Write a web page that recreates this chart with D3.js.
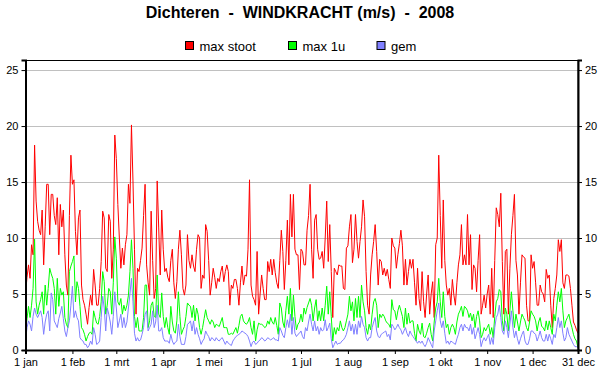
<!DOCTYPE html>
<html><head><meta charset="utf-8">
<script src="https://cdn.jsdelivr.net/npm/d3@7"></script>
<style>
html,body{margin:0;padding:0;background:#fff;}
svg text{font-family:"Liberation Sans",Arial,sans-serif;}
</style></head>
<body>
<svg id="chart" width="600" height="390"></svg>
<script>
const title = "Dichteren  -  WINDKRACHT (m/s)  -  2008";
const seriesNames = ["max stoot", "max 1u", "gem"];
const tickDays = [0,31,60,91,121,152,182,213,244,274,305,335,365];
const tickLabels = ["1 jan","1 feb","1 mrt","1 apr","1 mei","1 jun","1 jul","1 aug","1 sep","1 okt","1 nov","1 dec","31 dec"];
const yTicks = [0,5,10,15,20,25];

const maxStoot = [
5,6.5,7.6,6.4,9.4,8.5,18.3,13.3,11.5,10.7,
10.3,12.5,7.6,11,14.8,14.8,10.3,13.9,13.9,12,
11.2,13.6,8.5,13,11,12.5,8.5,5.8,4.9,12,
17.4,14.8,15.2,10.6,8.5,11.8,12.5,5.8,4.5,4,
3.2,2.3,3.8,4.9,4.0,7.2,5.8,4.0,4.0,5.5,
7.9,12.4,11.8,7.3,7.0,12.1,11.5,6.4,9,19.2,
17.1,13,10,7.3,9.1,7.6,9.4,10.3,14.8,13.1,
20.1,15.1,9,3.2,7.3,7.0,8,9.1,12,14.8,
7.6,6,4.9,12.4,8,4.6,5.5,15.1,10.9,6.7,
12.5,9,7,7.3,6.5,6.1,8,9,6,4.6,
6.1,9,10.7,8.5,5.5,4.9,5.8,10.3,8,7.3,
8.5,7.5,7,9,10.3,10,5.5,6.7,6.4,11.2,
10.6,8,4.9,6,7.3,6.5,5.5,6.4,6.1,7,
7.5,6.1,7,7.6,7,4,5.8,5.5,6.3,6.3,
5.5,4,6,7.5,5.8,6.7,6.6,9,15.2,5.8,
4.8,4.5,4,8.8,3.2,5,6.7,5.5,4.5,4.5,
7.9,7,8.1,6.7,8.1,6.9,6,5.5,8,10.7,
8.8,5.4,8,11.6,7.6,13.9,10.1,13.9,9,8.5,
8.5,5.4,9,8.8,7.6,7.6,10.7,12,14.8,9,
6.4,11.6,12.1,9,8.1,8.2,8.8,7.3,10,13.3,
7.9,11.2,7,2.9,7.3,7,6.7,7.6,7.5,7.5,
5.5,5.4,9.1,9.3,11,12.1,7.8,9,12.1,9.7,
8.2,9.7,11,13.4,11.9,7,4,3.2,6.7,8.5,
9.7,11.2,8.8,5.8,8.1,7.9,6.7,7.3,6.6,7.2,
6.3,5.5,10,9.3,9.1,7.3,8.5,9.5,10.7,9.3,
5.8,8.1,5.8,7,8.1,7.3,8.1,6,4,7.3,
4.6,3.5,7,4.3,2.9,5,6.7,3.2,5,6.1,
2.9,9.4,10,17.4,12,7.3,13.4,8,5.8,4.9,
5.5,4,6.3,4.9,4,6,7.6,8.5,11.2,7.6,
8.5,7.6,12.1,7.6,10.3,5.4,7.6,7.3,5.2,8,
10.3,3.2,4,4.9,3.75,5,5.8,3.2,7.3,2.9,
8,12.7,12.1,11,14,7.9,3.2,8.8,9,3.2,
7.3,10.3,12,13.9,8,6.7,3.2,6,8.5,8.3,
8.2,4,2.6,2.6,8.5,7.3,7.9,6,4,4,
5.8,5.2,5,4.3,7.2,6.4,6.7,4,2,4.6,
5.5,6.7,9.85,8.8,9.85,6,5.5,6.7,6.7,6.6,
5.5,4,2.5,2.2,1.8,1.5];

const max1u = [
1.7,2.8,3.9,2.9,4,5.5,9.9,4.3,3.2,4,
4.5,5.2,3.2,5.8,4,5.5,7.3,6.8,6.4,5.5,
3.2,6.4,3.9,5.5,4.9,5.2,2.9,2.3,2,7,
7.5,7.9,8.4,4.3,6.1,5.5,3.9,2,1.8,1.4,
0.8,1.2,1.5,1.6,1.4,3.5,2.9,2.4,2.3,3,
4.3,7,6.1,3.2,4,5.5,5.2,3.2,6,10.1,
8.2,4.3,4,4.6,3.2,4,3.5,4,4.9,7,
9.85,7.3,3,2,2.9,1.7,1.7,1.7,2.9,5.8,
5.8,2,2.6,4,4.3,3,2.9,6.7,3.2,2.9,
5.1,3,2,2.9,2,1.4,3.9,2.5,1.7,1.5,
2.6,5.2,3,1.4,1.8,2.1,3,4.2,4,3.9,
2.9,4,2.6,3.75,3.2,2,1.4,2,2.8,3.6,
2.9,2.6,2.3,2.7,2.5,2,2.3,2.2,2.1,2.5,
2.9,2,2,2,1.4,1.4,1.5,1.4,1.7,2,
1.5,2.2,3,3.2,2.6,2.4,2.3,2.5,2.9,2,
1.4,2.6,0.8,1.8,2.4,2.3,2.3,2.2,2,2.1,
2.6,2.3,2.9,2.5,2.3,2.9,2.2,1.4,4.2,3.75,
2.5,2,3.5,4.8,3.2,5.5,2.6,4.9,3,1.8,
2.3,2.5,3.2,2.5,3.75,3.2,3.8,4.2,4.6,4,
2.6,3.75,4.5,2.6,3.5,2.6,3.75,2.6,4,5.7,
3.2,5.2,3,0.8,2,1.4,2,1.7,2.6,2,
1.7,2,2.6,3.2,4.8,3.5,4.3,2.6,4.6,2.9,
4.8,2.9,5.8,4.3,3.5,2,1.4,2.3,1.8,3.2,
4.3,4.6,4,2,3.2,2.9,3.2,3,2.6,2.4,
2.3,2,4.5,3.6,3.5,2.7,3.5,4,3.5,3,
2,3.75,2.3,3.3,2.4,2.6,2.6,1.5,0.8,2.3,
1.7,1.4,2.4,1.2,1.1,1.5,2,2.4,1.4,0.8,
2.5,3.75,4.3,6.4,4.3,2.9,5.2,3,2,2.3,
1.4,2,2.3,2,1.4,2.5,3.2,3.5,3.9,3,
3.9,3.75,3.5,2.9,3.3,2.6,3.2,2,3,3.5,
2.6,1.1,1.4,2,1.7,2,2.3,1.4,2,1.1,
3,4.3,4.6,5.4,5.2,2.6,1.7,3.75,3.2,1.7,
3.5,5.2,3.5,2,3.2,2.5,1.7,2.5,3.2,2.9,
2.6,2,1.7,2.5,3.5,3.2,3,2.6,1.7,2.5,
2.9,2.1,2,1.7,2.6,1.8,2.6,2,1.4,3.2,
2.6,4,5.2,4.3,5.5,3.5,2,2.6,2.9,3.2,
2.5,2,1.4,1,0.8,0.2];

const gem = [
0.8,2,2.6,2.3,1.7,3,3.75,3.2,2.9,3.2,
3.5,2.9,1.4,2.5,3.2,3.5,1.7,5.1,4.5,2.6,
2.3,2,2.8,3.3,3.9,2.8,1.7,1.2,2,2.6,
4,5.7,2.9,3.5,2.9,2.6,1.1,0.9,0.8,0.5,
0.5,0.2,0.4,0.8,0.5,2,1.4,0.5,0.6,0.8,
2.9,4.8,3.75,1.7,3.75,3.2,2.5,1.4,3,5.2,
3.75,2,2.6,3.2,2,2.9,2,2.5,3.75,5,
6.4,4.3,1.5,0.8,1.1,0.8,0.9,1.4,2,3.2,
3.5,1.7,2,2.3,3.5,2,2.5,4,1.7,1.7,
2,1.1,0.8,0.8,0.8,0.6,1.4,0.8,0.5,0.7,
0.8,2.3,1.2,0.5,0.5,0.5,1.2,2.3,2.4,2.6,
1.7,2.6,1.4,2,1.4,1,0.5,0.8,1,1.7,
1.4,1.2,0.8,1.1,1,0.8,1.1,0.9,0.8,1,
1.1,0.8,0.5,0.8,0.6,0.5,0.4,0.8,1,1.2,
1.3,1.4,1.5,1.7,1.6,1.5,1.4,1.2,0.8,0.3,
0.7,0.8,0.5,0.6,0.8,0.9,1.1,1,0.8,0.9,
1.1,1,0.9,1,1.1,0.9,0.9,0.8,2,1.7,
1.3,1.1,2,2.7,2,3.2,1.4,2.9,1.5,1.2,
1.4,1.5,1.7,1.2,1,2,1.7,2.5,3.2,2.3,
1.7,2.6,1.7,2.1,1.4,2,1.7,1.8,2.7,1.7,
2,2.4,1,0.2,0.5,0.8,0.5,0.6,0.6,0.8,
0.9,1.1,1.4,2,2.6,1.7,2.3,1.4,2.3,1.4,
2.6,2,3,2.3,2,1.1,0.8,1.1,1.1,2,
2.5,2.9,1.7,1.2,1.1,1.4,1.5,1.6,1.7,1.2,
1.4,0.9,2.3,2.1,1.8,2,2.3,2,1.8,1.4,
1.7,2,1.5,1.2,1.7,1.4,1.2,1,0.8,0.6,
0.8,0.6,0.8,0.5,0.3,0.6,1.1,0.8,0.5,0.2,
1.7,2.6,3.5,4.2,2.6,2,2.6,1.5,0.6,0.8,
0.5,0.8,0.7,0.6,0.5,1,1.4,2,2.3,1.7,
2.3,2,2,1.7,2.3,1.4,2,1,1.5,2,
1.4,0.3,0.8,1.1,0.8,1.1,1.4,0.5,1.1,0.5,
2,2.9,3.2,4,2.9,1.7,1.4,2.6,2,1.1,
2.3,3.5,2,1.1,1.7,1,0.5,1,1.4,1.7,
0.8,0.5,0.5,1,1.7,1.7,1.5,1.4,0.8,1.2,
1.7,1.1,0.8,0.8,1.4,0.8,1.4,1,0.5,1.4,
1.1,2,2.9,2,2.6,1.5,0.8,1.1,2,1.4,
1.1,0.8,0.5,0.3,0.3,0.2];

const colors = ["#ff0000", "#00ff00", "#8080ff"];
const seriesData = [maxStoot, max1u, gem];

const svg = d3.select("#chart");
const L = 25.5, R = 578, T = 60, B = 350;
const x = d3.scaleLinear().domain([0, 365]).range([L, R]);
const y = d3.scaleLinear().domain([0, 25.9]).range([B, T]);

// grid
svg.append("g").selectAll("line").data(yTicks.filter(d => d > 0)).join("line")
  .attr("x1", L).attr("x2", R)
  .attr("y1", d => Math.round(y(d)) + 0.5).attr("y2", d => Math.round(y(d)) + 0.5)
  .attr("stroke", "#c0c0c0").attr("stroke-width", 1);

// lines
const line = d3.line().x((d, i) => x(i)).y(d => y(d));
seriesData.forEach((s, k) => {
  svg.append("path").datum(s).attr("d", line)
    .attr("fill", "none").attr("stroke", colors[k]).attr("stroke-width", 1);
});

// frame
svg.append("rect").attr("x", L).attr("y", T + 0.5).attr("width", R - L).attr("height", B - T)
  .attr("fill", "none").attr("stroke", "#000").attr("stroke-width", 1);

// axes
const fs = "11px";
const gx = svg.append("g").attr("transform", `translate(0,${B})`)
  .call(d3.axisBottom(x).tickValues(tickDays).tickFormat((d, i) => tickLabels[i]).tickSize(4).tickPadding(4));
const gl = svg.append("g").attr("transform", `translate(${L},0)`)
  .call(d3.axisLeft(y).tickValues(yTicks).tickSize(4).tickPadding(3));
const gr = svg.append("g").attr("transform", `translate(${R},0)`)
  .call(d3.axisRight(y).tickValues(yTicks).tickSize(4).tickPadding(3));
[gx, gl, gr].forEach(g => {
  g.select(".domain").attr("stroke", "#000").attr("stroke-width", 2);
  g.selectAll(".tick line").attr("stroke", "#000");
  g.selectAll(".tick text").attr("fill", "#000").style("font-size", fs)
    .style("font-family", "'Liberation Sans', Arial, sans-serif");
});

// title
svg.append("text").attr("x", 300).attr("y", 18).attr("text-anchor", "middle")
  .style("font-size", "16px").style("font-weight", "bold").style("white-space", "pre")
  .attr("fill", "#000").text(title);

// legend
const legX = [185, 288, 376.5];
seriesNames.forEach((n, k) => {
  svg.append("rect").attr("x", legX[k] + 0.5).attr("y", 41.5).attr("width", 8).attr("height", 8)
    .attr("fill", colors[k]).attr("stroke", "#000").attr("stroke-width", 1);
  svg.append("text").attr("x", legX[k] + 14.5).attr("y", 50.5).style("font-size", "13px")
    .attr("fill", "#000").text(n);
});
</script>
</body></html>
